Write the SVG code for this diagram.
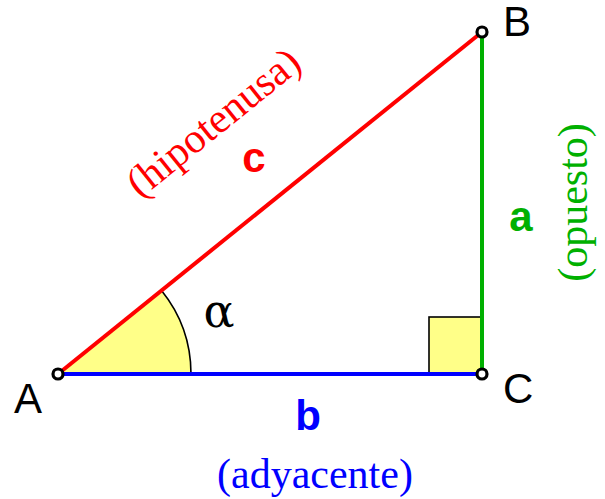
<svg xmlns="http://www.w3.org/2000/svg" width="605" height="499" viewBox="0 0 605 499">
<style>
.fill{fill:#ffff88;stroke:#000;stroke-width:1.6}
.side{stroke-width:4;fill:none;stroke-linecap:butt}
.pt{fill:#fff;stroke:#000;stroke-width:3.2}
.vl{font-family:"Liberation Sans",Arial,sans-serif;font-size:42px;fill:#000}
.sl{font-family:"Liberation Sans",Arial,sans-serif;font-size:42px;font-weight:bold;text-anchor:middle}
.nm{font-family:"Liberation Serif","Times New Roman",serif;font-size:42px;text-anchor:middle}
</style>
<rect width="605" height="499" fill="#fff"/>
<g id="angle-alpha">
<path class="fill" d="M58,374 L161.5,290.5 A133,133 0 0 1 191,374 Z"/>
<text x="219" y="327" font-family="DejaVu Serif,serif" font-size="46" text-anchor="middle">α</text>
</g>
<g id="right-angle">
<rect class="fill" x="429" y="317" width="53" height="57"/>
</g>
<g id="connectors">
<line id="side-c" class="side" x1="58" y1="374" x2="482" y2="32" stroke="#ff0000"/>
<line id="side-a" class="side" x1="482" y1="32" x2="482" y2="374" stroke="#00b000"/>
<line id="side-b" class="side" x1="58" y1="374" x2="482" y2="374" stroke="#0000ff"/>
</g>
<g id="label-c">
<text class="sl" x="254" y="172" fill="#ff0000">c</text>
<text class="nm" fill="#ff0000" transform="translate(222,133) rotate(-38.9)">(hipotenusa)</text>
</g>
<g id="label-a">
<text class="sl" x="521" y="231" fill="#00b000">a</text>
<text class="nm" fill="#00b000" transform="translate(587,202.5) rotate(-90)">(opuesto)</text>
</g>
<g id="label-b">
<text class="sl" x="308" y="430" fill="#0000ff">b</text>
<text class="nm" x="315" y="488" fill="#0000ff">(adyacente)</text>
</g>
<g id="vertex-A">
<circle class="pt" cx="58" cy="374" r="5"/>
<text class="vl" x="14" y="413">A</text>
</g>
<g id="vertex-B">
<circle class="pt" cx="482" cy="32" r="5"/>
<text class="vl" x="503" y="36">B</text>
</g>
<g id="vertex-C">
<circle class="pt" cx="482" cy="374" r="5"/>
<text class="vl" x="503" y="403">C</text>
</g>
</svg>
